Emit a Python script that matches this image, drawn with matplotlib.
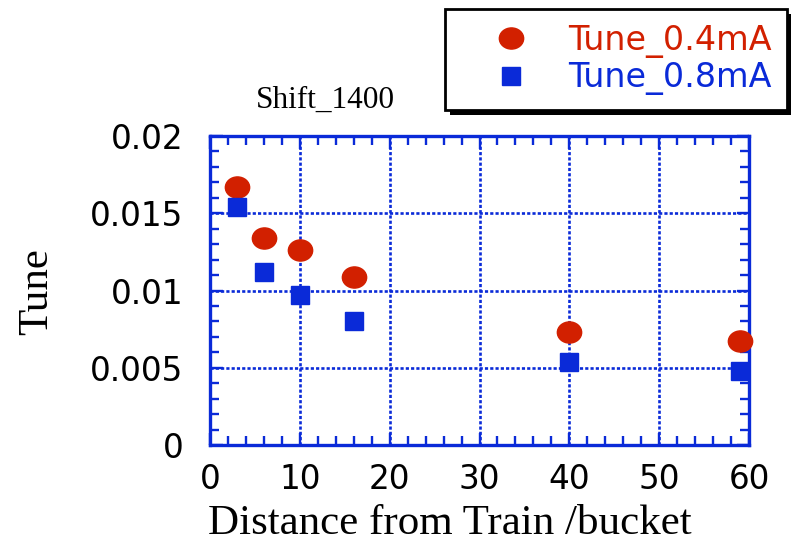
import matplotlib
matplotlib.use('Agg')
import matplotlib.pyplot as plt
from matplotlib.path import Path
from matplotlib.transforms import Affine2D
from matplotlib.patches import Rectangle
from matplotlib.ticker import MultipleLocator, FuncFormatter

# distance from the train in buckets, tune shift at two bunch currents
bucket = [3, 6, 10, 16, 40, 59]
tune_04mA = [0.0167, 0.0134, 0.0126, 0.0109, 0.0073, 0.0067]
tune_08mA = [0.0154, 0.0112, 0.0097, 0.0080, 0.0054, 0.0048]
series_names = ['Tune_0.4mA', 'Tune_0.8mA']

RED = '#d22000'
BLUE = '#0a2ad8'
SERIF = 'Liberation Serif'
SANS = 'DejaVu Sans'

# slightly flattened circle for the 0.4mA points
circ = Path.unit_circle()
oval = Path(Affine2D().scale(1.0, 0.87).transform(circ.vertices), circ.codes)

fig = plt.figure(figsize=(7.91, 5.47), dpi=100)
ax = fig.add_axes([210/791, 1-445/547, 539/791, 309/547])

ax.plot(bucket, tune_04mA, ls='none', marker=oval, ms=17.5, color=RED,
        mec=RED, clip_on=False, zorder=3, label=series_names[0])
ax.plot(bucket, tune_08mA, ls='none', marker='s', ms=13.5, color=BLUE,
        mec=BLUE, clip_on=False, zorder=3, label=series_names[1])

ax.set_xlim(0, 60)
ax.set_ylim(0, 0.02)
ax.xaxis.set_major_locator(MultipleLocator(10))
ax.xaxis.set_minor_locator(MultipleLocator(2))
ax.yaxis.set_major_locator(MultipleLocator(0.005))
ax.yaxis.set_minor_locator(MultipleLocator(0.001))
ax.yaxis.set_major_formatter(FuncFormatter(lambda v, p: '%g' % round(v, 4)))

ax.grid(which='major', color=BLUE, ls=(0, (1.2, 0.8)), lw=1.9)
for s in ax.spines.values():
    s.set_color(BLUE)
    s.set_linewidth(2.4)
ax.tick_params(which='both', direction='in', top=True, right=True,
               color=BLUE, width=1.7, labelsize=23.5, labelcolor='black')
ax.tick_params(which='major', length=9)
ax.tick_params(which='minor', length=6.5)
ax.tick_params(axis='y', pad=19)
ax.tick_params(axis='x', pad=13)
for lab in ax.get_xticklabels() + ax.get_yticklabels():
    lab.set_family(SANS)

fig.text(325/791, 1-100/547, 'Shift_1400', family=SERIF, fontsize=22.5,
         ha='center', va='center')
fig.text(450/791, 1-524/547, 'Distance from Train /bucket', family=SERIF,
         fontsize=31, ha='center', va='center')
fig.text(37/791, 1-292/547, 'Tune', family=SERIF, fontsize=31,
         rotation=90, ha='center', va='center')

leg = fig.legend(loc='upper left', bbox_to_anchor=(445/791, 1-9/547),
                 bbox_transform=fig.transFigure, borderaxespad=0,
                 prop={'family': SANS, 'size': 24}, frameon=True,
                 fancybox=False, edgecolor='black', framealpha=1,
                 borderpad=0.45, handlelength=3.05, handletextpad=0.2,
                 labelspacing=0.1)
leg.get_frame().set_linewidth(2)
leg.set_zorder(6)
for t, c in zip(leg.get_texts(), [RED, BLUE]):
    t.set_color(c)

# solid drop shadow behind the legend box
fig.canvas.draw()
bb = leg.get_frame().get_window_extent(fig.canvas.get_renderer())
inv = fig.transFigure.inverted()
(x0, y0), (x1, y1) = inv.transform([[bb.x0 + 5, bb.y0 - 5], [bb.x1 + 5, bb.y1 - 5]])
fig.add_artist(Rectangle((x0, y0), x1 - x0, y1 - y0, transform=fig.transFigure,
                         facecolor='black', edgecolor='none', zorder=5))

fig.savefig('out.png', dpi=100)
